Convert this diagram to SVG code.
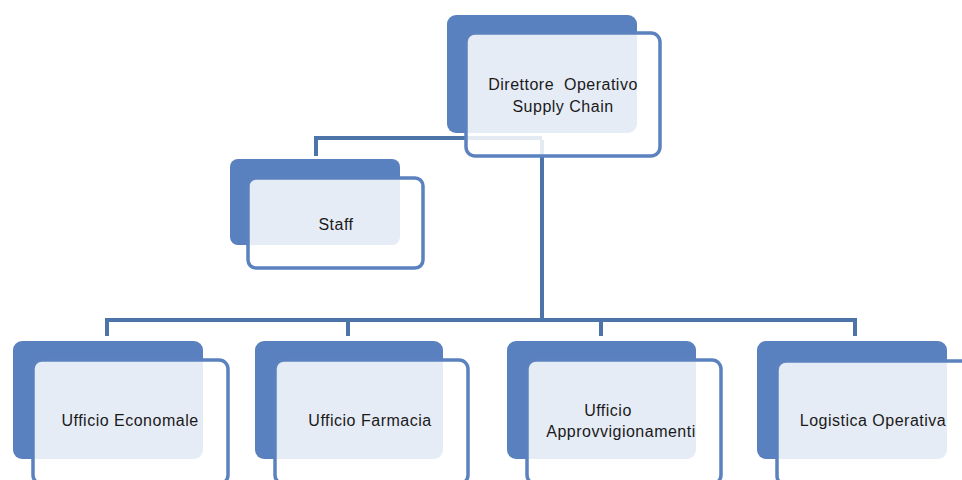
<svg xmlns="http://www.w3.org/2000/svg" width="962" height="480" viewBox="0 0 962 480">
<style>
.back{fill:#5a81bf}
.front{fill:#ffffff;fill-opacity:0.85;stroke:#5b82be;stroke-width:3.5}
.lbl{font-family:"Liberation Sans",Arial,sans-serif;font-size:16px;letter-spacing:0.5px;fill:#1a1a1a;text-anchor:middle;white-space:pre}
.conn{fill:none;stroke:#4c74a9;stroke-width:4}
</style>
<rect width="962" height="480" fill="#ffffff"/>
<g id="connectors">
<path class="conn" d="M542 140 V320 M107 320 H855 M107 318 V336 M348 318 V336 M601 318 V336 M855 318 V336"/>
<path class="conn" d="M542 138 H316 V156"/>
</g>
<g id="node-direttore">
<rect class="back" x="447" y="15" width="190" height="118" rx="9"/>
<rect class="front" x="466" y="33" width="194" height="123" rx="9"/>
<text class="lbl" x="563" y="90" xml:space="preserve">Direttore  Operativo</text>
<text class="lbl" x="563" y="112">Supply Chain</text>
</g>
<g id="node-staff">
<rect class="back" x="230" y="159" width="170" height="86" rx="8"/>
<rect class="front" x="248" y="178" width="175" height="90" rx="8"/>
<text class="lbl" x="336" y="230">Staff</text>
</g>
<g id="node-economale">
<rect class="back" x="13" y="341" width="190" height="118" rx="9"/>
<rect class="front" x="33" y="360" width="195" height="124" rx="9"/>
<text class="lbl" x="130" y="426">Ufficio Economale</text>
</g>
<g id="node-farmacia">
<rect class="back" x="255" y="341" width="188" height="118" rx="9"/>
<rect class="front" x="275" y="360" width="193" height="124" rx="9"/>
<text class="lbl" x="370" y="426">Ufficio Farmacia</text>
</g>
<g id="node-approvvigionamenti">
<rect class="back" x="507" y="341" width="189" height="118" rx="9"/>
<rect class="front" x="527" y="360" width="194" height="124" rx="9"/>
<text class="lbl" x="608" y="416">Ufficio</text>
<text class="lbl" x="621" y="437">Approvvigionamenti</text>
</g>
<g id="node-logistica">
<rect class="back" x="757" y="341" width="190" height="118" rx="9"/>
<rect class="front" x="777" y="361" width="200" height="124" rx="9"/>
<text class="lbl" x="873" y="426">Logistica Operativa</text>
</g>
</svg>
